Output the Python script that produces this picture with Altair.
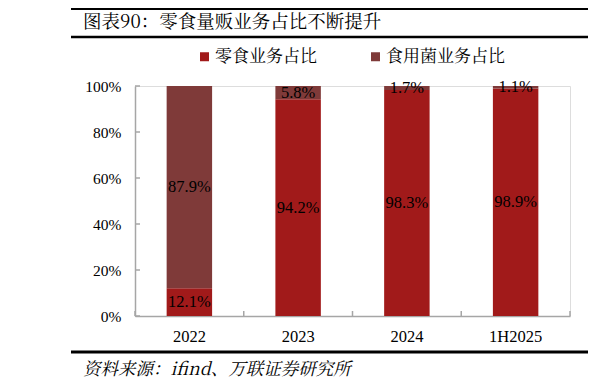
import altair as alt
import pandas as pd

years = ["2022", "2023", "2024", "1H2025"]
snack_share = [12.1, 94.2, 98.3, 98.9]
fungi_share = [87.9, 5.8, 1.7, 1.1]
series_names = ["零食业务占比", "食用菌业务占比"]
series_colors = ["#A11A1A", "#7F3A39"]
y_ticks = [0, 20, 40, 60, 80, 100]
title_text = "图表90：零食量贩业务占比不断提升"
source_text = "资料来源：ifind、万联证券研究所"

rows = []
for i, y in enumerate(years):
    rows.append({"year": y, "series": series_names[0], "value": snack_share[i], "ord": 0})
    rows.append({"year": y, "series": series_names[1], "value": fungi_share[i], "ord": 1})
df = pd.DataFrame(rows)

W, H = 435, 230
CJK = "Noto Serif CJK SC, Noto Sans CJK SC, Liberation Serif"
NUM = "Liberation Serif"
GREY = "#A6A6A6"

p_inner = 0.582
p_outer = p_inner / 2
step = W / (len(years) - p_inner + 2 * p_outer)
tick_shift = -p_outer * step

xscale = alt.Scale(domain=years, paddingInner=p_inner, paddingOuter=p_outer)
yscale = alt.Scale(domain=[0, 100], nice=False)

xaxis = alt.Axis(title=None, labelAngle=0, ticks=False, labelFont=NUM,
                 labelFontSize=16.5, labelColor="#000", labelPadding=12,
                 domainColor=GREY, domainWidth=1.5)
yaxis = alt.Axis(title=None, values=y_ticks, labelExpr="datum.value + '%'",
                 ticks=False, grid=False, labelFont=NUM, labelFontSize=15.5,
                 labelColor="#000", labelPadding=14,
                 domainColor=GREY, domainWidth=1.5)

base = alt.Chart(df)

bars = base.mark_bar().encode(
    x=alt.X("year:N", sort=years, scale=xscale, axis=xaxis),
    y=alt.Y("value:Q", stack="zero", scale=yscale, axis=yaxis),
    color=alt.Color("series:N", scale=alt.Scale(domain=series_names, range=series_colors),
                    legend=alt.Legend(title=None, orient="none", direction="horizontal",
                                      legendX=61, legendY=-38, padding=0,
                                      symbolType="square", symbolSize=81,
                                      symbolStrokeWidth=0, labelFont=CJK,
                                      labelFontSize=17, labelColor="#000",
                                      labelOffset=2, columnPadding=50)),
    order=alt.Order("ord:Q", sort="ascending"),
)

labels = base.transform_stack(
    stack="value", as_=["v0", "v1"], groupby=["year"], sort=[alt.SortField("ord")]
).transform_calculate(
    mid="(datum.v0 + datum.v1) / 2",
    lab="format(datum.value, '.1f') + '%'",
).mark_text(font=NUM, fontSize=16.5, color="#000", baseline="middle").encode(
    x=alt.X("year:N", sort=years, scale=xscale, axis=xaxis),
    y=alt.Y("mid:Q", scale=yscale, axis=yaxis),
    text="lab:N",
)

ytick_df = pd.DataFrame({"tick": y_ticks})
yticks = alt.Chart(ytick_df).mark_rule(color=GREY, strokeWidth=1.5).encode(
    y=alt.Y("tick:Q", scale=yscale, axis=yaxis),
    x=alt.value(0), x2=alt.value(5),
)

xtick_df = pd.DataFrame({"year": years})
xticks = alt.Chart(xtick_df).mark_rule(color=GREY, strokeWidth=1.5, xOffset=tick_shift).encode(
    x=alt.X("year:N", sort=years, scale=xscale, bandPosition=0, axis=xaxis),
    y=alt.value(H - 5), y2=alt.value(H),
)
xtick_end = alt.Chart(pd.DataFrame({"e": [1]})).mark_rule(color=GREY, strokeWidth=1.5).encode(
    x=alt.value(W), y=alt.value(H - 5), y2=alt.value(H),
)

one = pd.DataFrame({"t": [title_text]})
title = alt.Chart(one).mark_text(font=CJK, fontSize=18.5, color="#000", align="left",
                                 baseline="middle").encode(
    text="t:N", x=alt.value(-52), y=alt.value(-64.5))

src = alt.Chart(pd.DataFrame({"t": [source_text]})).mark_text(
    font=CJK, fontSize=17.5, fontStyle="italic", color="#000", align="left",
    baseline="middle").encode(text="t:N", x=alt.value(-52), y=alt.value(284))

line_df = pd.DataFrame({"k": [1]})
top_line = alt.Chart(line_df).mark_rule(color="#000", strokeWidth=2).encode(
    x=alt.value(-64), x2=alt.value(470), y=alt.value(-77))
title_line = alt.Chart(line_df).mark_rule(color="#000", strokeWidth=2.5).encode(
    x=alt.value(-64), x2=alt.value(470), y=alt.value(-49))
bottom_line = alt.Chart(line_df).mark_rule(color="#000", strokeWidth=3).encode(
    x=alt.value(-64), x2=alt.value(470), y=alt.value(266))

chart = alt.layer(
    bars, labels, yticks, xticks, xtick_end, title, src, top_line, title_line, bottom_line
).properties(
    width=W, height=H,
    autosize=alt.AutoSizeParams(type="none"),
    padding={"left": 127, "top": 78, "right": 18, "bottom": 65},
).configure_view(stroke=None).configure(background="white")

chart.save("out.html", embed_options={"renderer": "svg", "actions": False})
